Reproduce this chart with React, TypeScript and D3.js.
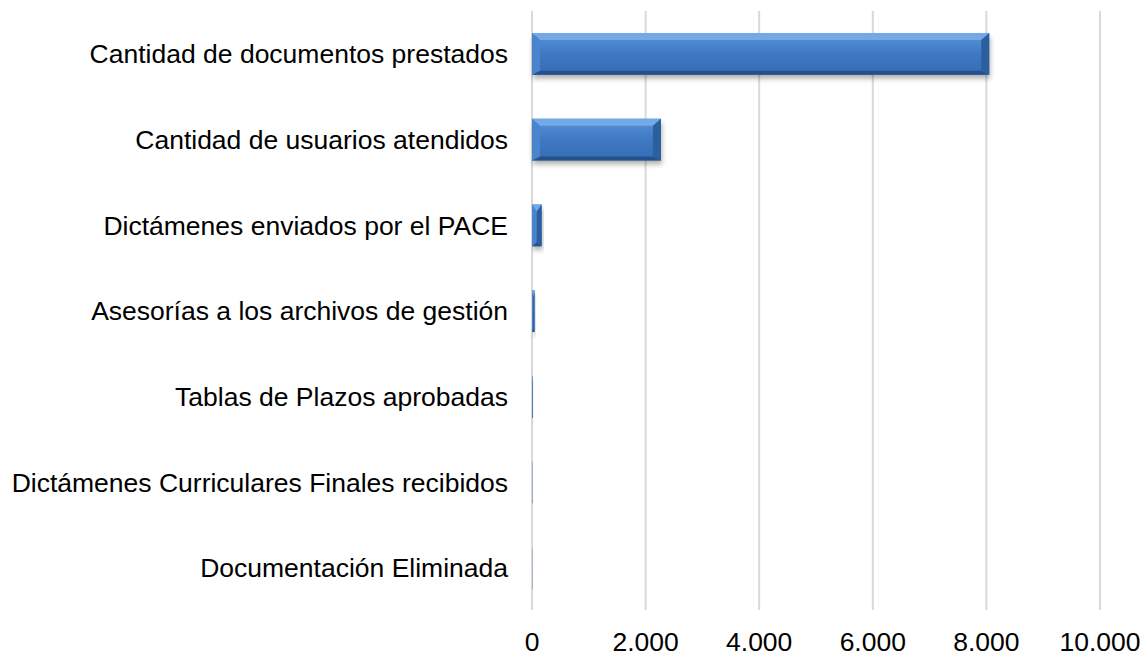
import * as d3 from "d3";
import React, { useRef, useEffect } from "react";

const categories = [
  "Cantidad de documentos prestados",
  "Cantidad de usuarios atendidos",
  "Dictámenes enviados por el PACE",
  "Asesorías a los archivos de gestión",
  "Tablas de Plazos aprobadas",
  "Dictámenes Curriculares Finales recibidos",
  "Documentación Eliminada",
];
const values = [8050, 2270, 170, 45, 12, 4, 3];
const tickValues = [0, 2000, 4000, 6000, 8000, 10000];

const width = 1146;
const height = 656;
const font = "'Liberation Sans', Arial, sans-serif";

const App = () => {
  const ref = useRef<SVGSVGElement>(null);

  useEffect(() => {
    const svg = d3.select(ref.current);
    svg.selectAll("*").remove();

    const x = d3.scaleLinear().domain([0, 10000]).range([532, 1100]);
    const y = d3
      .scaleBand()
      .domain(categories)
      .range([11, 611])
      .paddingInner(0.513)
      .paddingOuter(0.2565);

    const fmt = d3.formatLocale({
      decimal: ",",
      thousands: ".",
      grouping: [3],
      currency: ["", ""],
    }).format(",d");

    const defs = svg.append("defs");
    const grad = defs
      .append("linearGradient")
      .attr("id", "barGrad")
      .attr("x1", 0)
      .attr("y1", 0)
      .attr("x2", 0)
      .attr("y2", 1);
    grad.append("stop").attr("offset", "0%").attr("stop-color", "#5a92d8");
    grad.append("stop").attr("offset", "50%").attr("stop-color", "#3e79c2");
    grad.append("stop").attr("offset", "100%").attr("stop-color", "#356db3");
    const blur = defs.append("filter").attr("id", "shadow").attr("x", "-10%").attr("y", "-30%").attr("width", "120%").attr("height", "160%");
    blur.append("feGaussianBlur").attr("stdDeviation", 2.5);

    // grid
    svg
      .append("g")
      .selectAll("line")
      .data(tickValues)
      .enter()
      .append("line")
      .attr("x1", (d) => x(d))
      .attr("x2", (d) => x(d))
      .attr("y1", 11)
      .attr("y2", 610)
      .attr("stroke", "#d9d9d9")
      .attr("stroke-width", 2);

    // tick labels
    svg
      .append("g")
      .selectAll("text")
      .data(tickValues)
      .enter()
      .append("text")
      .attr("x", (d) => x(d))
      .attr("y", 651)
      .attr("text-anchor", "middle")
      .attr("font-family", font)
      .attr("font-size", 26.5)
      .attr("fill", "#000")
      .text((d) => fmt(d));

    // category labels
    svg
      .append("g")
      .selectAll("text")
      .data(categories)
      .enter()
      .append("text")
      .attr("x", 508)
      .attr("y", (d) => (y(d) as number) + y.bandwidth() / 2)
      .attr("dy", "0.35em")
      .attr("text-anchor", "end")
      .attr("font-family", font)
      .attr("font-size", 26.5)
      .attr("fill", "#000")
      .text((d) => d);

    const bh = y.bandwidth();
    const bars = svg
      .append("g")
      .selectAll("g")
      .data(values)
      .enter()
      .append("g");

    // shadow
    bars
      .append("rect")
      .attr("x", x(0) + 1)
      .attr("y", (d, i) => (y(categories[i]) as number) + 4)
      .attr("width", (d) => Math.max(0, x(d) - x(0)))
      .attr("height", bh)
      .attr("fill", "#000")
      .attr("opacity", 0.3)
      .attr("filter", "url(#shadow)");

    bars
      .append("rect")
      .attr("x", x(0))
      .attr("y", (d, i) => y(categories[i]) as number)
      .attr("width", (d) => x(d) - x(0))
      .attr("height", bh)
      .attr("fill", "url(#barGrad)");

    // bevel edges
    const bevel = (d: number, i: number, side: string) => {
      const x0 = x(0);
      const x1 = x(d);
      const y0 = y(categories[i]) as number;
      const y1 = y0 + bh;
      const b = Math.min(8, (x1 - x0) / 2);
      const bv = 7;
      let pts: number[][] = [];
      if (side === "top") pts = [[x0, y0], [x1, y0], [x1 - b, y0 + bv], [x0 + b, y0 + bv]];
      if (side === "bottom") pts = [[x0, y1], [x1, y1], [x1 - b, y1 - 4], [x0 + b, y1 - 4]];
      if (side === "left") pts = [[x0, y0], [x0 + b, y0 + bv], [x0 + b, y1 - 4], [x0, y1]];
      if (side === "right") pts = [[x1, y0], [x1 - b, y0 + bv], [x1 - b, y1 - 4], [x1, y1]];
      return pts.map((p) => p.join(",")).join(" ");
    };
    const sides: [string, string][] = [
      ["top", "#74a9e6"],
      ["bottom", "#24518c"],
      ["left", "#4a84cc"],
      ["right", "#2c5f9e"],
    ];
    sides.forEach(([side, color]) => {
      bars
        .append("polygon")
        .attr("points", (d, i) => bevel(d, i, side))
        .attr("fill", color);
    });
  }, []);

  return (
    <div style={{ position: "absolute", left: 0, top: 0, background: "#fff" }}>
      <svg ref={ref} width={width} height={height} style={{ display: "block" }} />
    </div>
  );
};

export default App;
